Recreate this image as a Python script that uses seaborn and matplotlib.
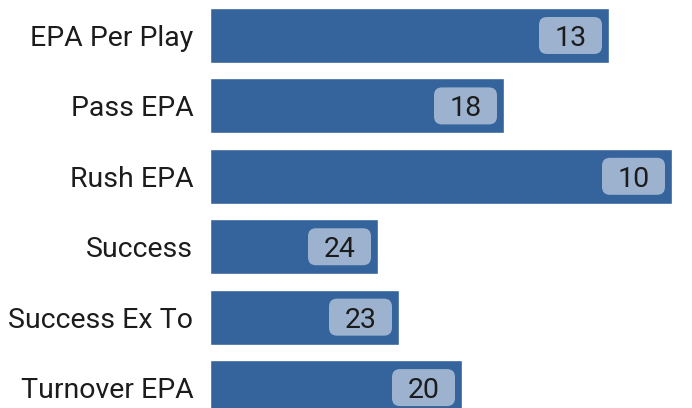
import matplotlib
matplotlib.use("Agg")
import matplotlib.pyplot as plt
from matplotlib.patches import FancyBboxPatch
import seaborn as sns
import pandas as pd

# Team ranks per metric (1 = best); bars run longer for better ranks
metrics = ["EPA Per Play", "Pass EPA", "Rush EPA", "Success", "Success Ex To", "Turnover EPA"]
ranks = [13, 18, 10, 24, 23, 20]
n_teams = 32

bar_color = "#34649b"
chip_color = "#9cb2cf"
text_color = "#1c1c1c"
font_family = ["Roboto", "DejaVu Sans"]

df = pd.DataFrame({"metric": metrics, "rank": ranks})
df["score"] = n_teams - df["rank"]

sns.set_theme(style="white")
plt.rcParams["font.family"] = font_family

W, H = 692, 408
fig = plt.figure(figsize=(W / 100, H / 100), dpi=100)
ax_left, ax_w = 210, 482
ax = fig.add_axes([ax_left / W, 0, ax_w / W, 1])

sns.barplot(data=df, x="score", y="metric", orient="h", color=bar_color,
            saturation=1, width=0.78, ax=ax)

px_per_unit = 21.0
ax.set_xlim(0, ax_w / px_per_unit)
ax.set_ylim(5.29, -0.504)
px_per_row = H / (5.29 + 0.504)

chip_w = 63 / px_per_unit
chip_h = 37 / px_per_row
gap = 7 / px_per_unit
radius = 8 / px_per_unit
aspect = px_per_unit / px_per_row

for i, (score, rank) in enumerate(zip(df["score"], df["rank"])):
    right = score - gap
    chip = FancyBboxPatch((right - chip_w, i - chip_h / 2), chip_w, chip_h,
                          boxstyle=f"round,pad=0,rounding_size={radius}",
                          mutation_aspect=aspect, fc=chip_color, ec="none",
                          zorder=3)
    ax.add_patch(chip)
    ax.text(right - chip_w / 2, i, str(rank), ha="center", va="center_baseline",
            fontsize=20.5, color=text_color, zorder=4)

ax.set_xlabel("")
ax.set_ylabel("")
ax.set_xticks([])
ax.tick_params(axis="y", length=0, pad=12, labelsize=20.5, labelcolor=text_color)
for s in ax.spines.values():
    s.set_visible(False)

fig.savefig("out.png", dpi=100)
